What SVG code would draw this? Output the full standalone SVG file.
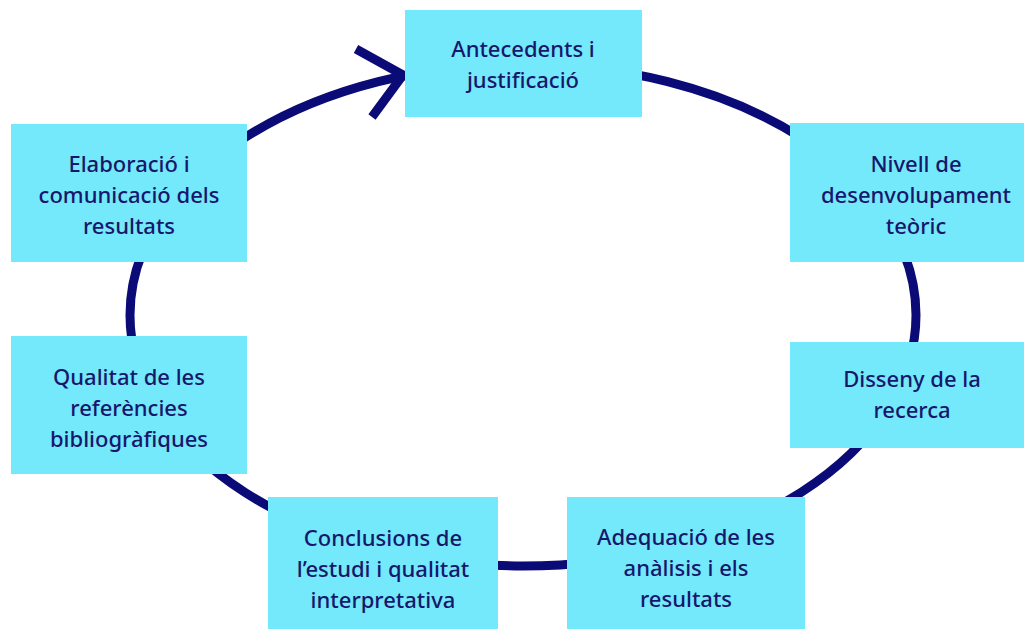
<svg xmlns="http://www.w3.org/2000/svg" width="1024" height="629" viewBox="0 0 1024 629">
  <style>
    .box { fill: #74e9fb; }
    .lbl { font-family: "Noto Sans", "Open Sans", sans-serif; font-size: 22px; font-weight: 500; fill: #17176c; text-anchor: middle; }
    .ring { fill: none; stroke: #0b0b78; stroke-width: 9; }
  </style>
  <rect width="1024" height="629" fill="#ffffff"/>
  <g id="connectors">
    <ellipse class="ring" cx="523" cy="315" rx="393" ry="251"/>
    <polyline class="ring" points="356,49 403,75 372,117" stroke-linejoin="miter"/>
  </g>
  <g id="node-antecedents">
    <rect class="box" x="405" y="10" width="237" height="107"/>
    <text class="lbl" x="523" y="57">Antecedents i</text>
    <text class="lbl" x="523" y="88">justificació</text>
  </g>
  <g id="node-nivell">
    <rect class="box" x="790" y="123" width="250" height="139"/>
    <text class="lbl" x="916" y="172">Nivell de</text>
    <text class="lbl" x="916" y="203">desenvolupament</text>
    <text class="lbl" x="916" y="234">teòric</text>
  </g>
  <g id="node-disseny">
    <rect class="box" x="790" y="342" width="250" height="106"/>
    <text class="lbl" x="912" y="387">Disseny de la</text>
    <text class="lbl" x="912" y="418">recerca</text>
  </g>
  <g id="node-adequacio">
    <rect class="box" x="567" y="497" width="238" height="140"/>
    <text class="lbl" x="686" y="545">Adequació de les</text>
    <text class="lbl" x="686" y="576">anàlisis i els</text>
    <text class="lbl" x="686" y="607">resultats</text>
  </g>
  <g id="node-conclusions">
    <rect class="box" x="268" y="497" width="230" height="140"/>
    <text class="lbl" x="383" y="546">Conclusions de</text>
    <text class="lbl" x="383" y="577">l’estudi i qualitat</text>
    <text class="lbl" x="383" y="608">interpretativa</text>
  </g>
  <g id="node-qualitat">
    <rect class="box" x="11" y="336" width="236" height="138"/>
    <text class="lbl" x="129" y="385">Qualitat de les</text>
    <text class="lbl" x="129" y="416">referències</text>
    <text class="lbl" x="129" y="447">bibliogràfiques</text>
  </g>
  <g id="node-elaboracio">
    <rect class="box" x="11" y="124" width="236" height="138"/>
    <text class="lbl" x="129" y="172">Elaboració i</text>
    <text class="lbl" x="129" y="203">comunicació dels</text>
    <text class="lbl" x="129" y="234">resultats</text>
  </g>
</svg>
